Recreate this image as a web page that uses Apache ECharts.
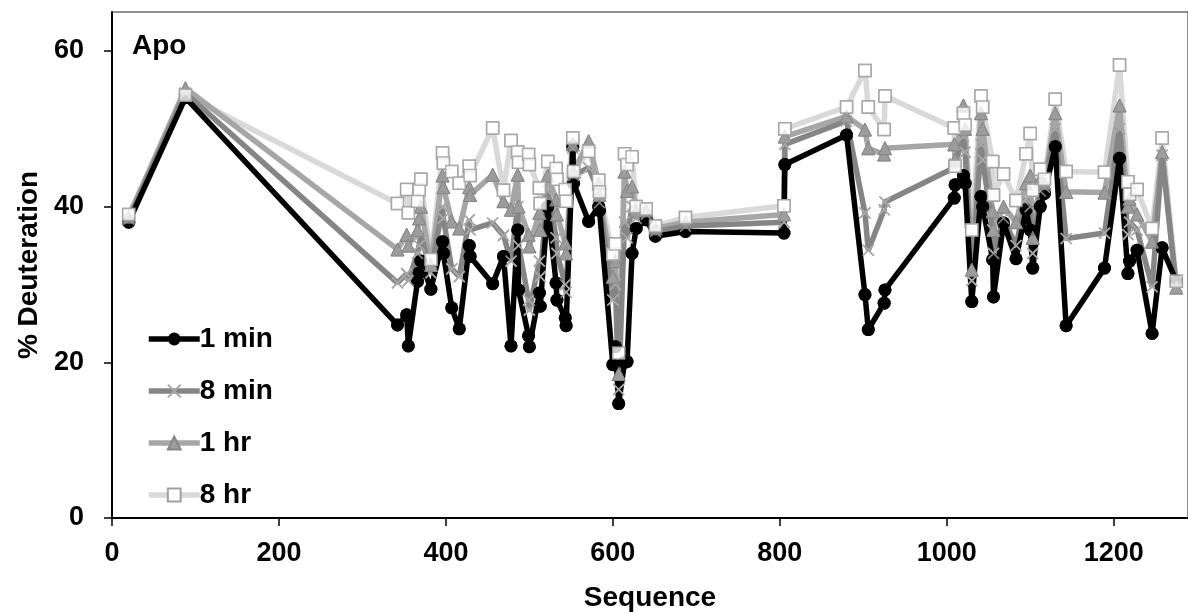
<!DOCTYPE html>
<html>
<head>
<meta charset="utf-8">
<script src="https://cdn.jsdelivr.net/npm/echarts@6/dist/echarts.min.js"></script>
<style>html,body{margin:0;padding:0;background:#fff;}#c{width:1188px;height:613px;}</style>
</head>
<body>
<div id="c"></div>
<script>
// Sequence positions (peptides)
var seqPos = [20, 88, 342, 353, 355, 366, 368, 370, 382, 396, 397, 407, 416, 428, 429, 456, 469, 478, 486, 487, 499, 500, 512, 513, 522, 532, 533, 543, 544, 552, 553, 571, 583, 584, 600, 603, 607, 614, 617, 623, 628, 640, 651, 687, 805, 806, 880, 902, 906, 925, 926, 1009, 1010, 1020, 1022, 1030, 1041, 1043, 1055, 1056, 1068, 1083, 1095, 1100, 1103, 1112, 1117, 1130, 1143, 1189, 1207, 1217, 1219, 1228, 1246, 1258, 1275];
var min1 = [38, 54, 24.8, 26.1, 22.1, 30.4, 31.5, 33, 29.4, 35.5, 34, 27, 24.3, 35, 33.6, 30.1, 33.6, 22.1, 37, 29.3, 23.4, 22, 28.9, 27.2, 40, 30.2, 28, 25.7, 24.7, 47.7, 43, 38.1, 40, 39.5, 19.7, 22, 14.7, 20, 20.1, 34, 37.2, 38.3, 36.2, 36.8, 36.6, 45.4, 49.2, 28.7, 24.2, 27.6, 29.3, 41.1, 42.8, 44, 43, 27.8, 41.3, 40, 33.2, 28.4, 37.9, 33.3, 39.6, 37, 32.1, 40, 41.7, 47.7, 24.7, 32.1, 46.2, 31.4, 33, 34.4, 23.7, 34.7, 30.4];
var min8 = [38.4, 54.6, 30.2, 31.4, 30.5, 34, 35, 36.5, 31.5, 40, 38.5, 32, 31, 38.3, 37, 37.9, 36.3, 33, 40, 35, 28, 26.7, 33, 31, 42, 36, 34, 30, 29, 47.5, 44, 45, 42, 40.5, 28, 30, 16.5, 38, 36, 40, 38.5, 39, 36.8, 37.5, 38, 48, 51, 39.2, 34.4, 39.6, 40.6, 45, 45.5, 49, 47, 30.5, 48, 46, 37, 34, 38.5, 35, 41, 40, 34, 42, 42.5, 50, 35.9, 36.6, 50, 36.4, 38, 37, 29.7, 46.6, 29.5];
var hr1 = [38.7, 55.2, 34.5, 36.4, 35, 37, 38.5, 40, 32.5, 44, 42.5, 38.1, 37.2, 42.5, 41.5, 44.1, 40.7, 39.6, 44.1, 40, 36.4, 34.9, 39.2, 37, 44, 40.9, 39, 35.3, 34, 48, 44.5, 48.4, 43, 41.5, 31, 33, 18.5, 44.5, 42, 42.6, 39.5, 39.5, 37.2, 38, 39, 49, 51.6, 49.9, 47.5, 46.7, 47.5, 48, 46, 53, 50, 31.9, 52, 50, 39.4, 37, 40, 38, 43, 44, 36, 43.5, 43, 52, 41.9, 41.8, 53, 40, 41, 39, 35.5, 47, 29.6];
var hr8 = [39, 54.3, 40.4, 42.2, 39.2, 40.7, 42.2, 43.5, 33.2, 46.9, 45.6, 44.5, 43, 45.2, 44, 50.1, 42.1, 48.5, 47, 45.7, 46.7, 45.4, 42.4, 40.4, 45.8, 44.9, 43.5, 42.2, 40.7, 48.8, 44.5, 47.1, 43.4, 41.9, 33.9, 35.2, 21.2, 46.8, 45.4, 46.4, 40, 39.7, 37.5, 38.6, 40.1, 50, 52.8, 57.5, 52.8, 49.9, 54.2, 50.1, 45.2, 52, 50.5, 37, 54.2, 52.8, 45.8, 41.5, 44.2, 40.8, 46.8, 49.4, 42.1, 44.8, 43.5, 53.8, 44.5, 44.4, 58.2, 43.2, 41.6, 42.2, 37.2, 48.8, 30.4];
var seriesNames = ['1 min', '8 min', '1 hr', '8 hr'];
var yTicks = [0, 20, 40, 60];
var xTicks = [0, 200, 400, 600, 800, 1000, 1200];

function pairs(vals) { return seqPos.map(function (x, i) { return [x, vals[i]]; }); }
var allVals = [min1, min8, hr1, hr8];
var FONT = 'Liberation Sans, Arial, sans-serif';
var crossPath = 'path://M0,0L10,10M10,0L0,10';
var styles = [
  { line: '#000000', symbol: 'circle', size: 13, item: { color: '#000000' } },
  { line: '#858585', symbol: crossPath, size: 11, item: { color: 'rgba(0,0,0,0)', borderColor: '#a8a8a8', borderWidth: 1.6 } },
  { line: '#a6a6a6', symbol: 'triangle', size: 13, item: { color: '#9c9c9c', borderColor: '#858585', borderWidth: 1 } },
  { line: '#d9d9d9', symbol: 'rect', size: 12, item: { color: '#ffffff', borderColor: '#a0a0a0', borderWidth: 1.5 } }
];

var series = [];
// lines: 8 hr at bottom, 1 min on top
for (var k = 3; k >= 0; k--) {
  series.push({
    name: seriesNames[k], type: 'line', data: pairs(allVals[k]), z: 2,
    symbol: styles[k].symbol, symbolSize: styles[k].size, showSymbol: true,
    itemStyle: styles[k].item,
    lineStyle: { color: styles[k].line, width: 5.5 },
    color: styles[k].line,
    emphasis: { disabled: true }, silent: true
  });
}
// markers over all lines
for (var m = 0; m < 4; m++) {
  series.push({
    type: 'scatter', data: pairs(allVals[m]), z: 3,
    symbol: styles[m].symbol, symbolSize: styles[m].size,
    itemStyle: styles[m].item, silent: true, emphasis: { disabled: true }
  });
}

var chart = echarts.init(document.getElementById('c'), null, { renderer: 'canvas' });
chart.setOption({
  animation: false,
  backgroundColor: '#ffffff',
  grid: { left: 112, top: 12, right: 0, bottom: 95, containLabel: false, outerBoundsMode: 'none',
    show: true, borderColor: '#222', borderWidth: 1, backgroundColor: 'transparent' },
  xAxis: {
    type: 'value', min: 0, max: 1289, interval: 200,
    name: 'Sequence', nameLocation: 'middle', nameGap: 66,
    nameTextStyle: { fontFamily: FONT, fontWeight: 'bold', fontSize: 28, color: '#000' },
    axisLine: { show: true, lineStyle: { color: '#000', width: 2 } },
    axisTick: { show: true, inside: false, length: 8, lineStyle: { color: '#000', width: 1.5 } },
    axisLabel: { margin: 22, fontFamily: FONT, fontWeight: 'bold', fontSize: 27, color: '#000', showMaxLabel: false,
      formatter: function (v) { return xTicks.indexOf(v) >= 0 ? String(v) : ''; } },
    splitLine: { show: false }
  },
  yAxis: {
    type: 'value', min: 0, max: 65, interval: 20,
    name: '% Deuteration', nameLocation: 'middle', nameGap: 69, nameRotate: 90,
    nameTextStyle: { fontFamily: FONT, fontWeight: 'bold', fontSize: 28, color: '#000' },
    axisLine: { show: true, lineStyle: { color: '#000', width: 2 } },
    axisTick: { show: true, inside: false, length: 8, lineStyle: { color: '#000', width: 1.5 } },
    axisLabel: { margin: 28, fontFamily: FONT, fontWeight: 'bold', fontSize: 27, color: '#000', showMaxLabel: false,
      formatter: function (v) { return yTicks.indexOf(v) >= 0 ? String(v) : ''; } },
    splitLine: { show: false }
  },
  legend: {
    data: seriesNames, orient: 'vertical', left: 141, top: 318,
    itemWidth: 51, itemHeight: 16, itemGap: 20,
    lineStyle: { width: 5.5 },
    textStyle: { fontFamily: FONT, fontWeight: 'bold', fontSize: 28, color: '#000', lineHeight: 32, padding: [0, 0, 0, -5] },
    selectedMode: false
  },
  graphic: [{
    type: 'text', left: 132, top: 32,
    style: { text: 'Apo', font: 'bold 28px Liberation Sans, Arial, sans-serif', fill: '#000' }
  }],
  series: series
});
</script>
</body>
</html>
